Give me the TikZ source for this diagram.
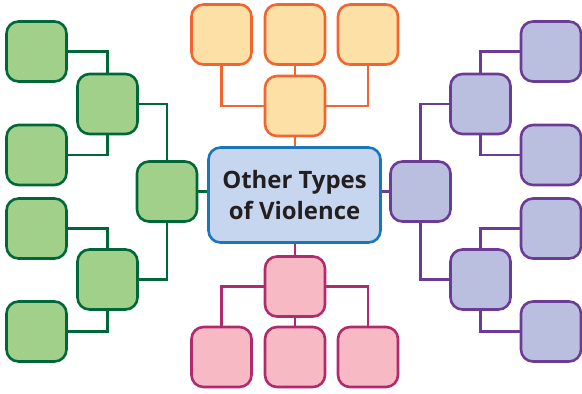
\documentclass[tikz,border=0pt]{standalone}
\usepackage{fontspec}
\setmainfont{Open Sans}
\usepackage{xcolor}

\definecolor{grnfill}{HTML}{A0D08A}
\definecolor{grnline}{HTML}{006838}
\definecolor{orgfill}{HTML}{FDE0A6}
\definecolor{orgline}{HTML}{F26531}
\definecolor{pnkfill}{HTML}{F7BAC4}
\definecolor{pnkline}{HTML}{B12A6E}
\definecolor{vltfill}{HTML}{BABFE0}
\definecolor{vltline}{HTML}{6C3B97}
\definecolor{ctrfill}{HTML}{C6D6EE}
\definecolor{ctrline}{HTML}{1B75BB}
\definecolor{txtgray}{HTML}{231F20}

\tikzset{
    box/.style={draw, rounded corners=12bp, line width=2.6bp, minimum width=60bp, minimum height=60bp},
    grnbox/.style={box, draw=grnline, fill=grnfill},
    orgbox/.style={box, draw=orgline, fill=orgfill},
    pnkbox/.style={box, draw=pnkline, fill=pnkfill},
    vltbox/.style={box, draw=vltline, fill=vltfill},
    link/.style={line width=2.4bp}
}

\begin{document}
\begin{tikzpicture}[x=1bp, y=-1bp]
        \useasboundingbox (0,0) rectangle (582,393);

        % Centre box
        \node[box, draw=ctrline, fill=ctrfill, minimum width=172bp, minimum height=95bp,
              align=center, text=txtgray, font=\bfseries\fontsize{24}{31}\selectfont, inner sep=0pt]
              (ctr) at (294.5,195) {Other Types\\of Violence};

        % Green branch (left)
        \foreach \i/\y in {1/51.5,2/155,3/228.5,4/331.5}
            \node[grnbox] (g\i) at (36.5,\y) {};
        \node[grnbox] (ga) at (107.5,104) {};
        \node[grnbox] (gb) at (107.5,279.5) {};
        \node[grnbox] (gc) at (167,191.5) {};

        \draw[link, grnline] (g1.east) -| (ga.north);
        \draw[link, grnline] (g2.east) -| (ga.south);
        \draw[link, grnline] (g3.east) -| (gb.north);
        \draw[link, grnline] (g4.east) -| (gb.south);
        \draw[link, grnline] (ga.east) -| (gc.north);
        \draw[link, grnline] (gb.east) -| (gc.south);
        \draw[link, grnline] (gc.east) -- (gc.east -| ctr.west);

        % Orange branch (top)
        \foreach \i/\x in {1/221.5,2/295,3/368}
            \node[orgbox] (o\i) at (\x,34.5) {};
        \node[orgbox] (om) at (295,106) {};

        \draw[link, orgline] (o1.south) |- (om.west);
        \draw[link, orgline] (o2.south) -- (om.north);
        \draw[link, orgline] (o3.south) |- (om.east);
        \draw[link, orgline] (om.south) -- (om.south |- ctr.north);

        % Pink branch (bottom)
        \node[pnkbox] (pm) at (295,286.5) {};
        \foreach \i/\x in {1/221.5,2/295,3/368}
            \node[pnkbox] (p\i) at (\x,357) {};

        \draw[link, pnkline] (pm.west) -| (p1.north);
        \draw[link, pnkline] (pm.south) -- (p2.north);
        \draw[link, pnkline] (pm.east) -| (p3.north);
        \draw[link, pnkline] (pm.north) -- (pm.north |- ctr.south);

        % Violet branch (right)
        \foreach \i/\y in {1/51.5,2/155,3/228.5,4/331.5}
            \node[vltbox] (v\i) at (551,\y) {};
        \node[vltbox] (va) at (480.5,104) {};
        \node[vltbox] (vb) at (480.5,279.5) {};
        \node[vltbox] (vc) at (420.5,191.5) {};

        \draw[link, vltline] (va.north) |- (v1.west);
        \draw[link, vltline] (va.south) |- (v2.west);
        \draw[link, vltline] (vb.north) |- (v3.west);
        \draw[link, vltline] (vb.south) |- (v4.west);
        \draw[link, vltline] (vc.north) |- (va.west);
        \draw[link, vltline] (vc.south) |- (vb.west);
        \draw[link, vltline] (vc.west) -- (vc.west -| ctr.east);
\end{tikzpicture}
\end{document}
